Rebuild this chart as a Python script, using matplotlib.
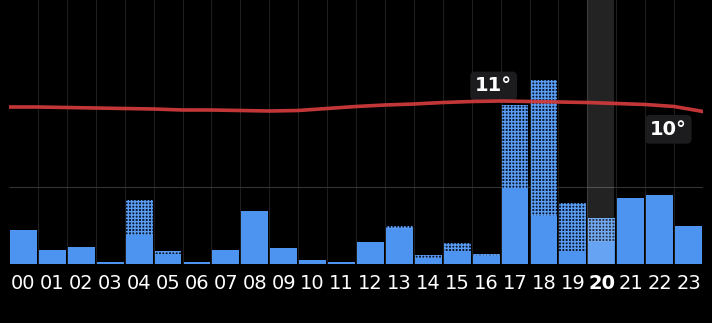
import matplotlib

matplotlib.use("Agg")
import matplotlib.pyplot as plt

# hourly precipitation (solid = likely amount, upper = possible range), arbitrary mm scale
hours = ["00", "01", "02", "03", "04", "05", "06", "07", "08", "09", "10", "11",
         "12", "13", "14", "15", "16", "17", "18", "19", "20", "21", "22", "23"]
precip_low = [0.44, 0.18, 0.22, 0.02, 0.38, 0.13, 0.02, 0.18, 0.69, 0.21, 0.05, 0.03,
              0.29, 0.45, 0.08, 0.17, 0.10, 0.99, 0.62, 0.17, 0.29, 0.86, 0.90, 0.49]
precip_high = [0.44, 0.18, 0.22, 0.02, 0.83, 0.17, 0.02, 0.18, 0.69, 0.21, 0.05, 0.03,
               0.29, 0.49, 0.12, 0.27, 0.13, 2.06, 2.39, 0.79, 0.60, 0.86, 0.90, 0.49]
# temperature at each hour mark 00:00 .. 24:00
temp_hours = list(range(25))
temps = [10.7, 10.7, 10.65, 10.6, 10.55, 10.5, 10.4, 10.4, 10.35, 10.3, 10.35, 10.55,
         10.75, 10.9, 11.0, 11.15, 11.25, 11.3, 11.25, 11.2, 11.15, 11.05, 10.95, 10.75, 10.25]
current_hour = 20

BLUE = "#4d94f0"
BG = "black"

fig = plt.figure(figsize=(7.12, 3.23), dpi=100, facecolor=BG)
ax = fig.add_axes([9 / 712, 59 / 323, 694 / 712, 264 / 323])
ax.set_facecolor(BG)

x = [i + 0.5 for i in range(len(hours))]
extra = [h - l for h, l in zip(precip_high, precip_low)]

ax.bar(x, precip_low, width=0.93, color=BLUE, linewidth=0, zorder=3)
plt.rcParams["hatch.color"] = "#5a9cf2"
plt.rcParams["hatch.linewidth"] = 1.0
ax.bar(x, extra, bottom=precip_low, width=0.93, facecolor="#0b1830",
       edgecolor="#5a9cf2", hatch="+++++", linewidth=0, zorder=3)

ax.set_xlim(0, 24)
ax.set_ylim(0, 264 / 77)

# grid
for b in range(1, 24):
    ax.axvline(b, color="#1e1e1e", linewidth=0.8, zorder=1)
ax.axhline(1.0, color="#333333", linewidth=0.8, zorder=1)

ax.set_xticks(x)
ax.set_xticklabels(hours)
ax.tick_params(axis="x", length=0, pad=7, labelsize=14, labelcolor="white")
ax.tick_params(axis="y", left=False, labelleft=False)
for lab in ax.get_xticklabels():
    if lab.get_text() == hours[current_hour]:
        lab.set_fontweight("bold")
for s in ax.spines.values():
    s.set_visible(False)

# temperature line
tx = ax.twinx()
tx.set_ylim(-5.0, 21.4)
tx.plot(temp_hours, temps, color="#cf3a3c", linewidth=2.6, alpha=0.95, zorder=4,
        solid_capstyle="round")
tx.axis("off")

imax = temps.index(max(temps))
imin = len(temps) - 1 - temps[::-1].index(min(temps))
box = dict(boxstyle="round,pad=0.25", facecolor="#1c1c1e", edgecolor="none")
tx.annotate(f"{round(max(temps))}°", (temp_hours[imax], temps[imax]),
            xytext=(-5, 4), textcoords="offset points", ha="center", va="bottom",
            color="white", fontsize=14, fontweight="bold", bbox=box)
tx.annotate(f"{round(min(temps))}°", (temp_hours[imin], temps[imin]),
            xytext=(-25, -6), textcoords="offset points", ha="center", va="top",
            color="white", fontsize=14, fontweight="bold", bbox=box)

# current hour highlight
ax.axvspan(current_hour, current_hour + 0.93, color="white", alpha=0.14,
           linewidth=0, zorder=5)

fig.savefig("out.png", dpi=100, facecolor=BG)
